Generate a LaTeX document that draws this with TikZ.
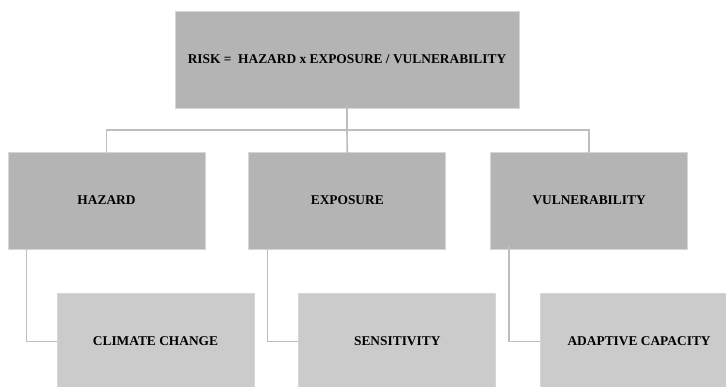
\documentclass[tikz,border=0pt]{standalone}
\usepackage{fontspec}
\setmainfont{Liberation Serif}
\usepackage{xcolor}
\definecolor{colorUpper}{HTML}{B4B4B4}
\definecolor{colorLower}{HTML}{CBCBCB}
\definecolor{colorEdge}{HTML}{D6D6D6}
\definecolor{colorLink}{HTML}{BEBEBE}
\usetikzlibrary{positioning}
\tikzset{
  box/.style={rectangle, draw=colorEdge, line width=0.8pt, inner sep=0pt,
    minimum width=197pt, minimum height=97pt,
    font=\fontsize{13.4}{15}\selectfont\bfseries},
  upper/.style={box, fill=colorUpper},
  lower/.style={box, fill=colorLower},
  link/.style={draw=colorLink, line width=1.6pt}
}

\begin{document}
\begin{tikzpicture}[x=1pt, y=-1pt]
\clip (0,0) rectangle (726,386);
\fill[white] (0,0) rectangle (726,386);
% top formula
\node[upper, minimum width=344pt] (risk) at (347,59.5) {RISK = \ HAZARD x EXPOSURE / VULNERABILITY};
% second row
\node[upper] (hazard) at (106.5,200.5) {HAZARD};
\node[upper, right=43pt of hazard] (exposure) {EXPOSURE};
\node[upper, right=44pt of exposure] (vuln) {VULNERABILITY};
% third row
\node[lower] (climate) at (155.5,341.5) {CLIMATE CHANGE};
\node[lower, right=44pt of climate] (sens) {SENSITIVITY};
\node[lower, right=44pt of sens] (adapt) {ADAPTIVE CAPACITY};
% connectors
\coordinate (bus) at (347,130);
\draw[link] ([yshift=1pt]risk.south) -- (bus);
\draw[link] ([yshift=-2pt]hazard.north) |- (bus) -| ([yshift=-2pt]vuln.north);
\draw[link] (bus) -- ([yshift=-2pt]exposure.north);
\draw[link] ([xshift=19pt, yshift=3pt]hazard.south west) |- (climate.west);
\draw[link] ([xshift=19pt, yshift=3pt]exposure.south west) |- (sens.west);
\draw[link] ([xshift=19pt, yshift=3pt]vuln.south west) |- (adapt.west);
\end{tikzpicture}
\end{document}
